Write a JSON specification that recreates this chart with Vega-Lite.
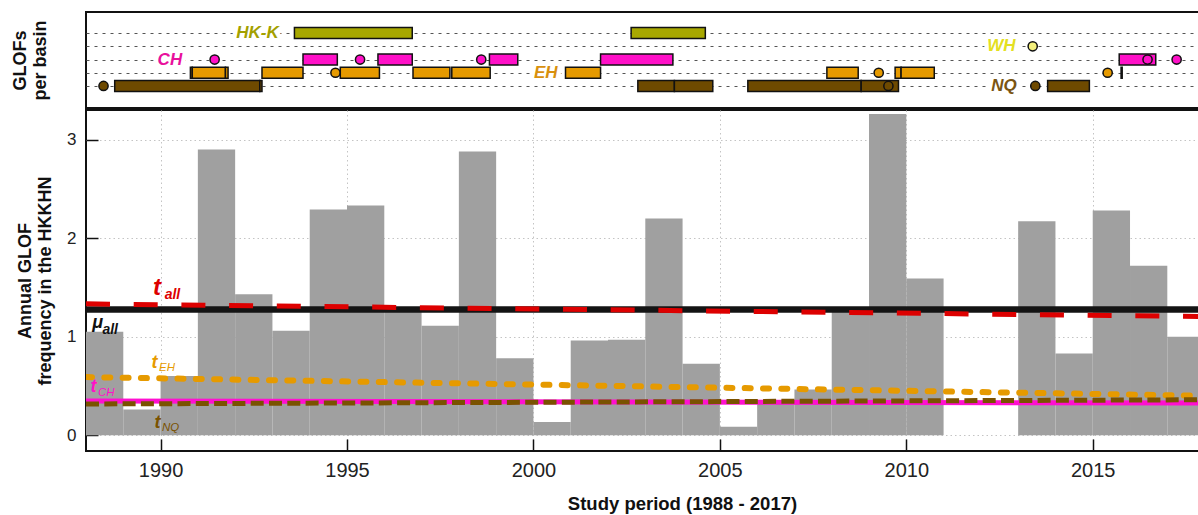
{
  "$schema": "https://vega.github.io/schema/vega-lite/v6.json",
  "background": "white",
  "padding": {"left": 10, "top": 11, "right": 0, "bottom": 0},
  "spacing": 0,
  "config": {
    "font": "Liberation Sans",
    "view": {"stroke": "#111111", "strokeWidth": 2},
    "axis": {
      "labelFont": "Liberation Sans",
      "titleFont": "Liberation Sans",
      "labelColor": "#222222",
      "titleColor": "#111111",
      "domain": false,
      "tickColor": "#111111",
      "tickWidth": 1.5
    }
  },
  "datasets": {
    "freq": [
      {"year": 1988, "end": 1989, "v": 1.05},
      {"year": 1989, "end": 1990, "v": 0.26},
      {"year": 1990, "end": 1991, "v": 0.6},
      {"year": 1991, "end": 1992, "v": 2.9},
      {"year": 1992, "end": 1993, "v": 1.43},
      {"year": 1993, "end": 1994, "v": 1.06},
      {"year": 1994, "end": 1995, "v": 2.29},
      {"year": 1995, "end": 1996, "v": 2.33},
      {"year": 1996, "end": 1997, "v": 1.26},
      {"year": 1997, "end": 1998, "v": 1.11},
      {"year": 1998, "end": 1999, "v": 2.88},
      {"year": 1999, "end": 2000, "v": 0.78},
      {"year": 2000, "end": 2001, "v": 0.135},
      {"year": 2001, "end": 2002, "v": 0.96},
      {"year": 2002, "end": 2003, "v": 0.97},
      {"year": 2003, "end": 2004, "v": 2.2},
      {"year": 2004, "end": 2005, "v": 0.725},
      {"year": 2005, "end": 2006, "v": 0.085},
      {"year": 2006, "end": 2007, "v": 0.33},
      {"year": 2007, "end": 2008, "v": 0.465},
      {"year": 2008, "end": 2009, "v": 1.25},
      {"year": 2009, "end": 2010, "v": 3.26},
      {"year": 2010, "end": 2011, "v": 1.59},
      {"year": 2011, "end": 2012, "v": 0},
      {"year": 2012, "end": 2013, "v": 0},
      {"year": 2013, "end": 2014, "v": 2.17},
      {"year": 2014, "end": 2015, "v": 0.83},
      {"year": 2015, "end": 2016, "v": 2.28},
      {"year": 2016, "end": 2017, "v": 1.72},
      {"year": 2017, "end": 2018, "v": 1.0}
    ],
    "trends": [
      {"series": "mu", "year": 1988, "v": 1.275},
      {"series": "mu", "year": 2018, "v": 1.275},
      {"series": "all", "year": 1988, "v": 1.333},
      {"series": "all", "year": 2018, "v": 1.204},
      {"series": "EH", "year": 1988, "v": 0.59},
      {"series": "EH", "year": 2018, "v": 0.4},
      {"series": "CH", "year": 1988, "v": 0.347},
      {"series": "CH", "year": 2018, "v": 0.327},
      {"series": "NQ", "year": 1988, "v": 0.317},
      {"series": "NQ", "year": 2018, "v": 0.36}
    ],
    "notes": [
      {"name": "all", "part": "big", "txt": "t", "year": 1989.8, "v": 1.42},
      {"name": "all", "part": "sub", "txt": "all", "year": 1990.11, "v": 1.38},
      {"name": "mu", "part": "base", "txt": "μ", "year": 1988.17, "v": 1.09},
      {"name": "mu", "part": "sub", "txt": "all", "year": 1988.44, "v": 1.03},
      {"name": "EH", "part": "base", "txt": "t", "year": 1989.76, "v": 0.68},
      {"name": "EH", "part": "small", "txt": "EH", "year": 1989.96, "v": 0.65},
      {"name": "CH", "part": "base", "txt": "t", "year": 1988.12, "v": 0.44},
      {"name": "CH", "part": "small", "txt": "CH", "year": 1988.32, "v": 0.4},
      {"name": "NQ", "part": "base", "txt": "t", "year": 1989.84, "v": 0.075},
      {"name": "NQ", "part": "small", "txt": "NQ", "year": 1990.04, "v": 0.045}
    ],
    "xticks": [
      {"year": 1990}, {"year": 1995}, {"year": 2000},
      {"year": 2005}, {"year": 2010}, {"year": 2015}
    ],
    "yticks": [
      {"v": 0}, {"v": 1}, {"v": 2}, {"v": 3}
    ],
    "spans": [
      {"basin": "HK-K", "row": 5, "year": 1993.59, "end": 1996.75},
      {"basin": "HK-K", "row": 5, "year": 2002.62, "end": 2004.61},
      {"basin": "CH", "row": 3, "year": 1993.82, "end": 1994.74},
      {"basin": "CH", "row": 3, "year": 1995.83, "end": 1996.75},
      {"basin": "CH", "row": 3, "year": 1998.82, "end": 1999.58},
      {"basin": "CH", "row": 3, "year": 2001.8, "end": 2003.74},
      {"basin": "CH", "row": 3, "year": 2015.71, "end": 2016.69},
      {"basin": "EH", "row": 2, "year": 1990.8, "end": 1990.85},
      {"basin": "EH", "row": 2, "year": 1990.85, "end": 1991.74},
      {"basin": "EH", "row": 2, "year": 1991.74, "end": 1991.81},
      {"basin": "EH", "row": 2, "year": 1992.72, "end": 1993.82},
      {"basin": "EH", "row": 2, "year": 1994.82, "end": 1995.87},
      {"basin": "EH", "row": 2, "year": 1996.77, "end": 1997.76},
      {"basin": "EH", "row": 2, "year": 1997.81, "end": 1998.84},
      {"basin": "EH", "row": 2, "year": 2000.86, "end": 2001.8},
      {"basin": "EH", "row": 2, "year": 2007.87, "end": 2008.71},
      {"basin": "EH", "row": 2, "year": 2009.7, "end": 2009.86},
      {"basin": "EH", "row": 2, "year": 2009.86, "end": 2010.75},
      {"basin": "EH", "row": 2, "year": 2015.76, "end": 2015.79},
      {"basin": "NQ", "row": 1, "year": 1988.77, "end": 1992.66},
      {"basin": "NQ", "row": 1, "year": 1992.66, "end": 1992.72},
      {"basin": "NQ", "row": 1, "year": 2002.8, "end": 2003.78},
      {"basin": "NQ", "row": 1, "year": 2003.78, "end": 2004.81},
      {"basin": "NQ", "row": 1, "year": 2005.75, "end": 2008.79},
      {"basin": "NQ", "row": 1, "year": 2008.79, "end": 2009.79},
      {"basin": "NQ", "row": 1, "year": 2013.79, "end": 2014.91}
    ],
    "events": [
      {"basin": "CH", "row": 3, "year": 1991.45},
      {"basin": "CH", "row": 3, "year": 1995.35},
      {"basin": "CH", "row": 3, "year": 1998.6},
      {"basin": "CH", "row": 3, "year": 2016.47},
      {"basin": "CH", "row": 3, "year": 2017.25},
      {"basin": "EH", "row": 2, "year": 1994.69},
      {"basin": "EH", "row": 2, "year": 2009.26},
      {"basin": "EH", "row": 2, "year": 2015.4},
      {"basin": "NQ", "row": 1, "year": 1988.47},
      {"basin": "NQ", "row": 1, "year": 2009.52},
      {"basin": "NQ", "row": 1, "year": 2013.46},
      {"basin": "WH", "row": 4, "year": 2013.39}
    ],
    "basins": [
      {"basin": "HK-K", "row": 5, "year": 1992.6},
      {"basin": "WH", "row": 4, "year": 2012.55},
      {"basin": "CH", "row": 3, "year": 1990.25},
      {"basin": "EH", "row": 2, "year": 2000.33},
      {"basin": "NQ", "row": 1, "year": 2012.62}
    ]
  },
  "vconcat": [
    {
      "width": 1113,
      "height": 96,
      "encoding": {
        "x": {
          "field": "year",
          "type": "quantitative",
          "scale": {"domain": [1988, 2017.85], "nice": false, "zero": false},
          "axis": null
        },
        "y": {
          "field": "row",
          "type": "quantitative",
          "scale": {"domain": [-0.29, 6.22], "nice": false, "zero": false},
          "axis": {
            "values": [1, 2, 3, 4, 5],
            "labels": false,
            "ticks": false,
            "grid": true,
            "gridColor": "#555555",
            "gridDash": [3, 5],
            "gridWidth": 1,
            "title": ["GLOFs", "per basin"],
            "titleFontSize": 18,
            "titleFontWeight": "bold",
            "titlePadding": 37
          }
        }
      },
      "layer": [
        {
          "data": {"name": "xticks"},
          "mark": {"type": "rule", "color": "#111111", "strokeWidth": 1.5},
          "encoding": {"y": {"datum": 6.22}, "y2": {"datum": 5.41}}
        },
        {
          "data": {"name": "spans"},
          "mark": {"type": "bar", "orient": "horizontal", "size": 11, "stroke": "#111111", "strokeWidth": 1.5, "clip": true},
          "encoding": {
            "x2": {"field": "end"},
            "color": {
              "field": "basin",
              "type": "nominal",
              "scale": {"domain": ["HK-K", "WH", "CH", "EH", "NQ"], "range": ["#a8a800", "#f4f07c", "#ff10c8", "#e69a00", "#6e4a00"]},
              "legend": null
            }
          }
        },
        {
          "data": {"name": "events"},
          "mark": {"type": "point", "shape": "circle", "filled": true, "size": 85, "opacity": 1, "stroke": "#111111", "strokeWidth": 1.5, "clip": true},
          "encoding": {
            "fill": {
              "field": "basin",
              "type": "nominal",
              "scale": {"domain": ["HK-K", "WH", "CH", "EH", "NQ"], "range": ["#a8a800", "#f4f07c", "#ff10c8", "#e69a00", "#6e4a00"]},
              "legend": null
            }
          }
        },
        {
          "data": {"name": "basins"},
          "mark": {"type": "text", "font": "Liberation Sans", "fontSize": 17, "fontWeight": "bold", "fontStyle": "italic", "align": "center", "baseline": "middle", "fill": "white", "stroke": "white", "strokeWidth": 9, "strokeJoin": "round"},
          "encoding": {"text": {"field": "basin"}}
        },
        {
          "data": {"name": "basins"},
          "mark": {"type": "text", "font": "Liberation Sans", "fontSize": 17, "fontWeight": "bold", "fontStyle": "italic", "align": "center", "baseline": "middle"},
          "encoding": {
            "text": {"field": "basin"},
            "color": {
              "field": "basin",
              "type": "nominal",
              "scale": {"domain": ["HK-K", "WH", "CH", "EH", "NQ"], "range": ["#a3a000", "#e4e020", "#e8109c", "#d8900e", "#7a5512"]},
              "legend": null
            }
          }
        }
      ],
      "resolve": {"scale": {"color": "independent", "fill": "independent"}}
    },
    {
      "width": 1113,
      "height": 341,
      "encoding": {
        "x": {
          "field": "year",
          "type": "quantitative",
          "scale": {"domain": [1988, 2017.85], "nice": false, "zero": false},
          "axis": {
            "values": [1990, 1995, 2000, 2005, 2010, 2015],
            "format": "d",
            "labelFontSize": 20,
            "labelPadding": 21,
            "tickSize": -12,
            "grid": true,
            "gridColor": "#c4c4c4",
            "gridDash": [1.5, 3],
            "gridWidth": 1,
            "title": "Study period (1988 - 2017)",
            "titleFontSize": 18.5,
            "titleFontWeight": "bold",
            "titlePadding": 14,
            "titleX": 596
          }
        },
        "y": {
          "field": "v",
          "type": "quantitative",
          "scale": {"domain": [-0.16, 3.3], "nice": false, "zero": false},
          "axis": {
            "values": [0, 1, 2, 3],
            "labelFontSize": 17,
            "labelPadding": 22,
            "tickSize": -12,
            "grid": true,
            "gridColor": "#c4c4c4",
            "gridDash": [1.5, 3],
            "gridWidth": 1,
            "title": ["Annual GLOF", "frequency  in the HKKHN"],
            "titleFontSize": 18,
            "titleFontWeight": "bold",
            "titlePadding": 12
          }
        }
      },
      "layer": [
        {
          "data": {"name": "freq"},
          "mark": {"type": "rect", "color": "#a0a0a0", "clip": true},
          "encoding": {"x2": {"field": "end"}, "y2": {"datum": 0}}
        },
        {
          "data": {"name": "xticks"},
          "mark": {"type": "rule", "color": "#111111", "strokeWidth": 1.5},
          "encoding": {"y": {"datum": -0.16}, "y2": {"datum": -0.038}}
        },
        {
          "data": {"name": "yticks"},
          "mark": {"type": "rule", "color": "#111111", "strokeWidth": 1.5},
          "encoding": {"x": {"datum": 1988}, "x2": {"datum": 1988.32}}
        },
        {
          "data": {"name": "trends"},
          "transform": [{"filter": {"field": "series", "equal": "mu"}}],
          "mark": {"type": "line", "color": "#141414", "strokeWidth": 6.5, "clip": true},
          "encoding": {}
        },
        {
          "data": {"name": "trends"},
          "transform": [{"filter": {"field": "series", "equal": "all"}}],
          "mark": {"type": "line", "color": "#dd0000", "strokeWidth": 5, "strokeDash": [24, 23.7], "clip": true},
          "encoding": {}
        },
        {
          "data": {"name": "trends"},
          "transform": [{"filter": {"field": "series", "equal": "EH"}}],
          "mark": {"type": "line", "color": "#e69a00", "strokeWidth": 6, "strokeDash": [6, 12.3], "strokeCap": "round", "clip": true},
          "encoding": {}
        },
        {
          "data": {"name": "trends"},
          "transform": [{"filter": {"field": "series", "equal": "CH"}}],
          "mark": {"type": "line", "color": "#ff10d0", "strokeWidth": 5, "clip": true},
          "encoding": {}
        },
        {
          "data": {"name": "trends"},
          "transform": [{"filter": {"field": "series", "equal": "NQ"}}],
          "mark": {"type": "line", "color": "#7a5200", "strokeWidth": 5, "strokeDash": [13, 5.3], "clip": true},
          "encoding": {}
        },
        {
          "data": {"name": "notes"},
          "transform": [{"filter": {"field": "part", "equal": "big"}}],
          "mark": {"type": "text", "font": "Liberation Sans", "fontSize": 24, "fontWeight": "bold", "fontStyle": "italic", "align": "left", "baseline": "alphabetic"},
          "encoding": {
            "text": {"field": "txt"},
            "color": {"field": "name", "type": "nominal", "scale": {"domain": ["all", "mu", "EH", "CH", "NQ"], "range": ["#dd0000", "#111111", "#e69a00", "#ff10c8", "#7a5200"]}, "legend": null}
          }
        },
        {
          "data": {"name": "notes"},
          "transform": [{"filter": {"field": "part", "equal": "base"}}],
          "mark": {"type": "text", "font": "Liberation Sans", "fontSize": 18, "fontWeight": "bold", "fontStyle": "italic", "align": "left", "baseline": "alphabetic"},
          "encoding": {
            "text": {"field": "txt"},
            "color": {"field": "name", "type": "nominal", "scale": {"domain": ["all", "mu", "EH", "CH", "NQ"], "range": ["#dd0000", "#111111", "#e69a00", "#ff10c8", "#7a5200"]}, "legend": null}
          }
        },
        {
          "data": {"name": "notes"},
          "transform": [{"filter": {"field": "part", "equal": "sub"}}],
          "mark": {"type": "text", "font": "Liberation Sans", "fontSize": 14, "fontWeight": "bold", "fontStyle": "italic", "align": "left", "baseline": "alphabetic"},
          "encoding": {
            "text": {"field": "txt"},
            "color": {"field": "name", "type": "nominal", "scale": {"domain": ["all", "mu", "EH", "CH", "NQ"], "range": ["#dd0000", "#111111", "#e69a00", "#ff10c8", "#7a5200"]}, "legend": null}
          }
        },
        {
          "data": {"name": "notes"},
          "transform": [{"filter": {"field": "part", "equal": "small"}}],
          "mark": {"type": "text", "font": "Liberation Sans", "fontSize": 11.5, "fontStyle": "italic", "align": "left", "baseline": "alphabetic"},
          "encoding": {
            "text": {"field": "txt"},
            "color": {"field": "name", "type": "nominal", "scale": {"domain": ["all", "mu", "EH", "CH", "NQ"], "range": ["#dd0000", "#111111", "#e69a00", "#ff10c8", "#7a5200"]}, "legend": null}
          }
        }
      ]
    }
  ]
}
